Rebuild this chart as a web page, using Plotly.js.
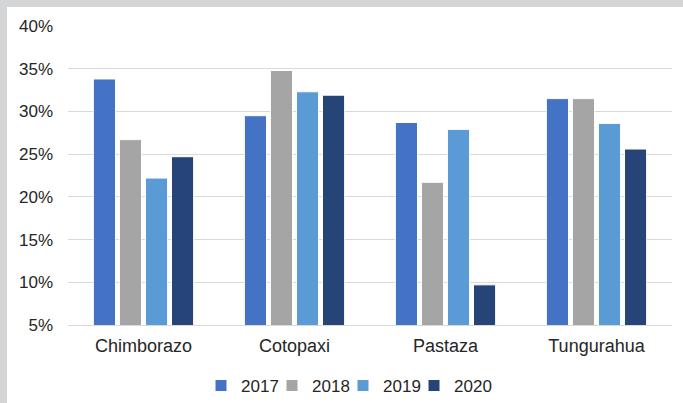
<!DOCTYPE html>
<html>
<head>
<meta charset="utf-8">
<script src="https://cdn.plot.ly/plotly-3.0.1.min.js"></script>
<style>
  html, body { margin: 0; padding: 0; background: #d4d5d7; width: 683px; height: 403px; overflow: hidden; }
  #chart { position: absolute; left: 7px; top: 7px; width: 676px; height: 396px; background: #ffffff; }
</style>
</head>
<body>
<div id="chart"></div>
<script>
const categories = ["Chimborazo", "Cotopaxi", "Pastaza", "Tungurahua"];
const seriesNames = ["2017", "2018", "2019", "2020"];
const v2017 = [33.8, 29.5, 28.7, 31.5];
const v2018 = [26.7, 34.8, 21.7, 31.5];
const v2019 = [22.2, 32.3, 27.9, 28.6];
const v2020 = [24.7, 31.9, 9.7, 25.6];
const yTicks = [5, 10, 15, 20, 25, 30, 35, 40];
const colors = ["#4472C4", "#A5A5A5", "#5B9BD5", "#264478"];

const values = [v2017, v2018, v2019, v2020];
const traces = values.map((vals, i) => ({
  type: "bar",
  name: seriesNames[i],
  x: categories,
  y: vals,
  marker: { color: colors[i], line: { color: "#ffffff", width: 1 } },
  hoverinfo: "skip"
}));

const font = { family: "Liberation Sans, Arial, sans-serif", size: 17, color: "#262626" };
const xfont = { family: "Liberation Sans, Arial, sans-serif", size: 18, color: "#262626" };

const layout = {
  width: 676,
  height: 396,
  margin: { l: 61, r: 11, t: 19, b: 78, autoexpand: false },
  paper_bgcolor: "#ffffff",
  plot_bgcolor: "#ffffff",
  font: font,
  barmode: "group",
  bargap: 0.31,
  bargroupgap: 0.15,
  showlegend: true,
  legend: {
    orientation: "h",
    xref: "container", yref: "container",
    x: 0.287, xanchor: "left",
    y: 0.043, yanchor: "middle",
    font: font,
    itemwidth: 30,
    entrywidth: 26,
    entrywidthmode: "pixels",
    traceorder: "normal"
  },
  xaxis: {
    type: "category",
    showgrid: false,
    showline: true,
    linecolor: "#d9d9d9",
    linewidth: 1,
    ticks: "",
    ticklabelstandoff: 4,
    tickfont: xfont,
    fixedrange: true
  },
  yaxis: {
    range: [5, 40],
    tickvals: yTicks,
    ticktext: yTicks.map(v => v + "%"),
    showgrid: true,
    gridcolor: "#d9d9d9",
    gridwidth: 1,
    zeroline: false,
    showline: false,
    ticks: "",
    ticklabelstandoff: 14,
    tickfont: font,
    fixedrange: true
  }
};

Plotly.newPlot("chart", traces, layout, { staticPlot: true, displayModeBar: false }).then(gd => {
  // let the last legend label draw past the compact entry width
  gd.querySelectorAll(".legend .scrollbox, .legend").forEach(el => el.removeAttribute("clip-path"));
  gd.querySelectorAll(".legend rect.bg").forEach(el => el.setAttribute("width", 300));
});
</script>
</body>
</html>
